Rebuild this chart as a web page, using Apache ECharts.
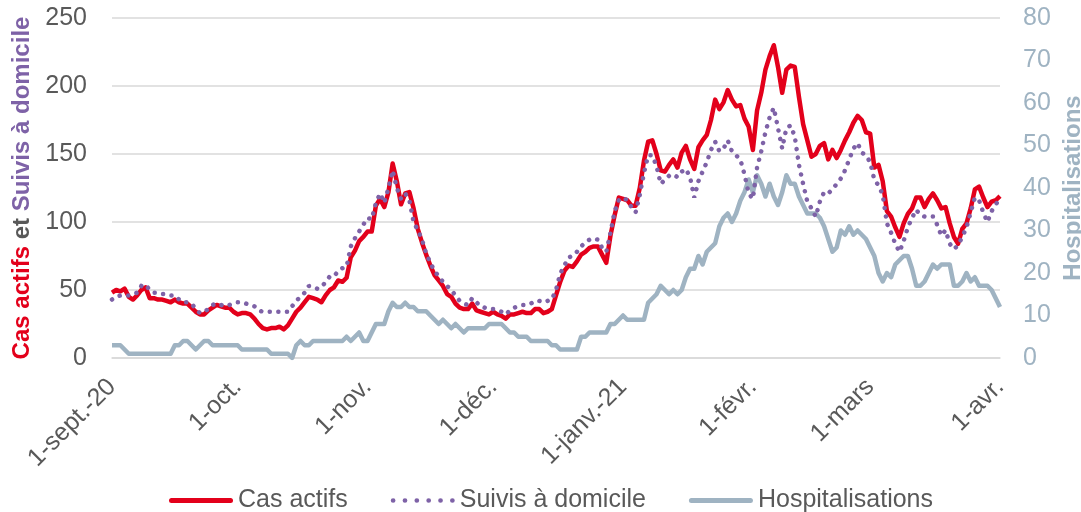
<!DOCTYPE html>
<html>
<head>
<meta charset="utf-8">
<style>
  html, body { margin: 0; padding: 0; background: #fff; }
  #chart { width: 1081px; height: 512px; }
</style>
<script src="https://cdn.jsdelivr.net/npm/echarts@6/dist/echarts.min.js"></script>
</head>
<body>
<div id="chart"></div>
<script>
// mois affichés sur l'axe (du 1er sept. 2020 au 1er avr. 2021)
var monthNames = ["sept.", "oct.", "nov.", "déc.", "janv.", "févr.", "mars", "avr."];
var monthDays = [30, 31, 30, 31, 31, 28, 31, 1];
var monthLabels = ["1-sept.-20", "1-oct.", "1-nov.", "1-déc.", "1-janv.-21", "1-févr.", "1-mars", "1-avr."];

// cas actifs (axe gauche)
var casActifs = [
  48, 50, 49, 51, 45, 43, 46, 50, 52, 44,
  44, 43, 43, 42, 41, 43, 41, 40, 40, 37,
  34, 32, 32, 35, 37, 39, 38, 37, 37, 34,
  32, 33, 33, 32, 29, 25, 22, 21, 22, 22,
  23, 21, 24, 29, 34, 37, 41, 45, 44, 43,
  41, 46, 50, 52, 57, 56, 59, 74, 79, 86,
  89, 93, 93, 112, 117, 111, 122, 143, 130, 113,
  121, 122, 110, 95, 85, 76, 68, 61, 57, 53,
  47, 45, 40, 37, 36, 36, 40, 35, 34, 33,
  32, 34, 32, 31, 29, 32, 32, 33, 34, 33,
  33, 36, 36, 33, 34, 36, 46, 56, 64, 68,
  67, 71, 76, 78, 81, 82, 82, 76, 70, 90,
  105, 118, 117, 116, 112, 112, 125, 145, 159, 160,
  150, 138, 137, 142, 146, 140, 151, 156, 146, 139,
  155, 160, 164, 175, 190, 183, 188, 197, 190, 185,
  186, 176, 170, 153, 182, 195, 212, 222, 230, 214,
  195, 212, 215, 214, 192, 172, 160, 148, 150, 156,
  158, 146, 153, 147, 153, 160, 166, 173, 178, 175,
  166, 165, 140, 142, 130, 108, 104, 96, 89, 99,
  106, 110, 118, 118, 111, 117, 121, 116, 110, 111,
  99, 89, 84, 95, 99, 110, 124, 126, 118, 111,
  115, 116, 119
];

// suivis à domicile (axe gauche)
var suivisDomicile = [
  43, 45, 46, 46, 46, 47, 48, 53, 54, 50,
  48, 48, 47, 47, 46, 46, 43, 41, 41, 40,
  36, 33, 34, 36, 39, 40, 39, 38, 39, 40,
  41, 41, 40, 39, 38, 35, 34, 34, 34, 34,
  34, 34, 34, 38, 42, 45, 48, 53, 52, 51,
  52, 56, 60, 60, 64, 66, 67, 82, 88, 93,
  98, 103, 102, 114, 121, 114, 125, 138, 125, 117,
  121, 116, 100, 94, 87, 77, 70, 64, 60, 56,
  53, 50, 46, 42, 40, 39, 44, 41, 38, 37,
  36, 36, 35, 34, 32, 35, 37, 38, 39, 39,
  40, 42, 42, 41, 42, 43, 50, 62, 68, 74,
  75, 78, 82, 85, 87, 88, 87, 81, 78, 92,
  108, 116, 118, 116, 111, 107, 120, 136, 149, 149,
  141, 128, 131, 134, 135, 133, 137, 139, 133, 118,
  130, 137, 144, 153, 159, 152, 154, 160, 152, 149,
  146, 135, 121, 117, 140, 152, 166, 177, 184, 169,
  154, 169, 171, 163, 142, 128, 115, 110, 104, 115,
  122, 121, 124, 128, 132, 138, 146, 154, 158, 151,
  149, 144, 131, 127, 120, 99, 92, 84, 78, 86,
  96, 103, 109, 105, 104, 104, 104, 98, 90, 94,
  84, 80, 83, 89, 96, 107, 118, 116, 107, 100,
  108, 113, 117
];

// hospitalisations (axe droit)
var hospitalisations = [
  3, 3, 3, 2, 1, 1, 1, 1, 1, 1,
  1, 1, 1, 1, 1, 3, 3, 4, 4, 3,
  2, 3, 4, 4, 3, 3, 3, 3, 3, 3,
  3, 2, 2, 2, 2, 2, 2, 2, 1, 1,
  1, 1, 1, 0, 3, 4, 3, 3, 4, 4,
  4, 4, 4, 4, 4, 4, 5, 4, 5, 6,
  4, 4, 6, 8, 8, 8, 11, 13, 12, 12,
  13, 12, 12, 11, 11, 11, 10, 9, 8, 9,
  8, 7, 8, 7, 6, 7, 7, 7, 7, 7,
  8, 8, 8, 8, 7, 6, 6, 5, 5, 5,
  4, 4, 4, 4, 4, 3, 3, 2, 2, 2,
  2, 2, 5, 5, 6, 6, 6, 6, 6, 8,
  8, 9, 10, 9, 9, 9, 9, 9, 13, 14,
  15, 17, 16, 15, 16, 15, 16, 19, 21, 21,
  24, 22, 25, 26, 27, 31, 33, 34, 32, 34,
  37, 39, 42, 39, 43, 41, 38, 41, 38, 36,
  39, 43, 41, 41, 38, 36, 34, 34, 34, 33,
  31, 28, 25, 26, 30, 29, 31, 29, 30, 29,
  28, 26, 24, 20, 18, 20, 19, 22, 23, 24,
  24, 21, 17, 17, 18, 20, 22, 21, 22, 22,
  22, 17, 17, 18, 20, 18, 19, 17, 17, 17,
  16, 14, 12
];

(function() {
  // catégories jour par jour
  var days = [];
  for (var m = 0; m < monthNames.length; m++) {
    for (var d = 1; d <= monthDays[m]; d++) {
      days.push(d === 1 ? monthLabels[m] : d + "-" + monthNames[m]);
    }
  }

  var red = "#e3001b";
  var purple = "#7e62a7";
  var grey = "#9fb3c2";
  var txt = "#595959";
  var font = "Liberation Sans";

  // icônes de légende : trait plein et trait pointillé
  var lineIcon = "path://M2.5,0 L61.5,0 A2.5,2.5 0 0,1 61.5,5 L2.5,5 A2.5,2.5 0 0,1 2.5,0 Z";
  var dotIcon = "path://";
  for (var i = 0; i < 6; i++) {
    var cx = 2.2 + i * 11;
    dotIcon += "M" + (cx - 2.2) + ",2.2 A2.2,2.2 0 1,1 " + (cx + 2.2) + ",2.2 A2.2,2.2 0 1,1 " + (cx - 2.2) + ",2.2 Z ";
  }

  var myChart = echarts.init(document.getElementById("chart"));
  var option = {
    animation: false,
    grid: { left: 112, right: 81, top: 18, bottom: 154, outerBoundsMode: "none" },
    legend: {
      top: 483,
      left: 164,
      itemWidth: 64,
      itemHeight: 14,
      itemGap: 43,
      textStyle: { color: txt, fontSize: 25, fontFamily: font },
      data: [
        { name: "Cas actifs", icon: lineIcon },
        { name: "Suivis à domicile", icon: dotIcon },
        { name: "Hospitalisations", icon: lineIcon }
      ]
    },
    xAxis: {
      type: "category",
      boundaryGap: false,
      data: days,
      axisLine: { lineStyle: { color: "#d9d9d9", width: 1.5 } },
      axisTick: { show: false },
      axisLabel: {
        rotate: 45,
        margin: 25,
        color: txt,
        fontSize: 25,
        fontFamily: font,
        interval: function(index, value) {
          return value.indexOf("1-") === 0;
        }
      }
    },
    yAxis: [
      {
        type: "value",
        min: 0,
        max: 250,
        interval: 50,
        name: "{r|Cas actifs} {g|et} {p|Suivis à domicile}",
        nameLocation: "middle",
        nameRotate: 90,
        nameGap: 72,
        nameTextStyle: {
          fontSize: 24,
          fontWeight: "bold",
          fontFamily: font,
          rich: {
            r: { color: red, fontSize: 24, fontWeight: "bold", fontFamily: font },
            g: { color: txt, fontSize: 24, fontWeight: "bold", fontFamily: font },
            p: { color: purple, fontSize: 24, fontWeight: "bold", fontFamily: font }
          }
        },
        axisLine: { show: false },
        axisTick: { show: false },
        axisLabel: { color: txt, fontSize: 25, fontFamily: font, margin: 25 },
        splitLine: { lineStyle: { color: "#d9d9d9", width: 1.5 } }
      },
      {
        type: "value",
        min: 0,
        max: 80,
        interval: 10,
        name: "Hospitalisations",
        nameLocation: "middle",
        nameRotate: 90,
        nameGap: 53,
        nameTextStyle: { color: grey, fontSize: 24, fontWeight: "bold", fontFamily: font },
        axisLine: { show: false },
        axisTick: { show: false },
        axisLabel: { color: grey, fontSize: 25, fontFamily: font, margin: 23 },
        splitLine: { show: false }
      }
    ],
    series: [
      {
        name: "Hospitalisations",
        type: "line",
        yAxisIndex: 1,
        data: hospitalisations,
        symbol: "none",
        color: grey,
        lineStyle: { color: grey, width: 4.5, join: "round" },
        z: 1
      },
      {
        name: "Cas actifs",
        type: "line",
        data: casActifs,
        symbol: "none",
        color: red,
        lineStyle: { color: red, width: 4.5, join: "round" },
        z: 2
      },
      {
        name: "Suivis à domicile",
        type: "line",
        data: suivisDomicile,
        symbol: "none",
        color: purple,
        lineStyle: { color: purple, width: 4.5, type: [0.1, 8.5], cap: "round" },
        z: 3
      }
    ]
  };
  myChart.setOption(option);
})();
</script>
</body>
</html>
